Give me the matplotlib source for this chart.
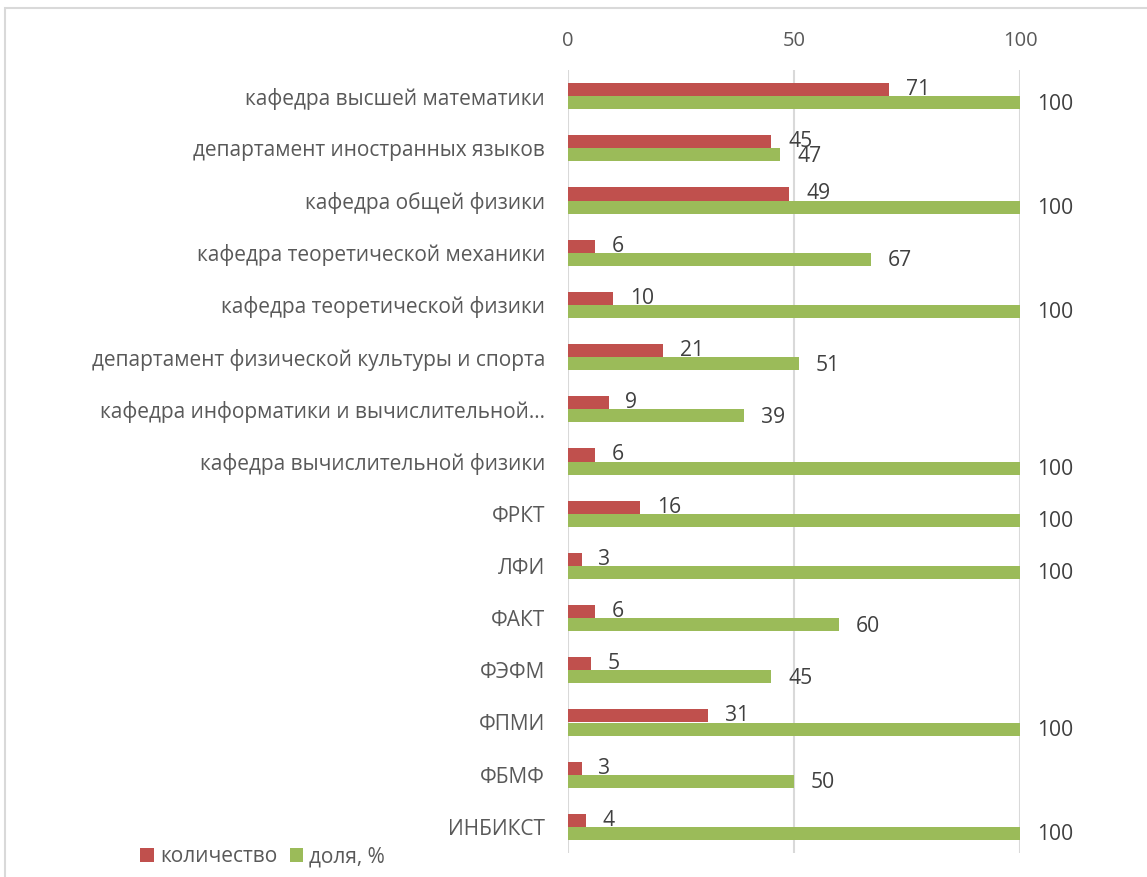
import matplotlib
matplotlib.use("Agg")
import matplotlib.pyplot as plt
from matplotlib.patches import Rectangle

plt.rcParams['font.family'] = ['Open Sans', 'DejaVu Sans']

categories = [
    "кафедра высшей математики",
    "департамент иностранных языков",
    "кафедра общей физики",
    "кафедра теоретической механики",
    "кафедра теоретической физики",
    "департамент физической культуры и спорта",
    "кафедра информатики и вычислительной…",
    "кафедра вычислительной физики",
    "ФРКТ",
    "ЛФИ",
    "ФАКТ",
    "ФЭФМ",
    "ФПМИ",
    "ФБМФ",
    "ИНБИКСТ",
]
count_values = [71, 45, 49, 6, 10, 21, 9, 6, 16, 3, 6, 5, 31, 3, 4]
share_values = [100, 47, 100, 67, 100, 51, 39, 100, 100, 100, 60, 45, 100, 50, 100]
series_names = ["количество", "доля, %"]
x_ticks = [0, 50, 100]

red = "#C0504D"
green = "#9BBB59"
grid_c = "#D9D9D9"
text_c = "#595959"
val_c = "#404040"

W, H = 1147, 877
fig = plt.figure(figsize=(W / 100, H / 100), dpi=100)

# chart frame
fig.patches.append(Rectangle((5 / W, -0.05), 1.2, 1 - 8 / H + 0.05, transform=fig.transFigure,
                             fill=False, edgecolor=grid_c, linewidth=1.5))

ax = fig.add_axes([568 / W, 1 - 853 / H, (1020 - 568) / W, (853 - 70) / H])

n = len(categories)
ys = list(range(n))
bh = 0.25
ax.barh([y - bh / 2 for y in ys], count_values, height=bh, color=red, label=series_names[0], zorder=3)
ax.barh([y + bh / 2 for y in ys], share_values, height=bh, color=green, label=series_names[1], zorder=3)

for y, v in zip(ys, count_values):
    ax.annotate(str(v), (v, y - bh / 2), xytext=(12.0, 0), textcoords="offset points",
                va="center", ha="left", fontsize=15.2, color=val_c, zorder=4)
for y, v in zip(ys, share_values):
    ax.annotate(str(v), (v, y + bh / 2), xytext=(12.0, -1.0), textcoords="offset points",
                va="center", ha="left", fontsize=15.2, color=val_c, annotation_clip=False, zorder=4)

ax.set_xlim(0, 100)
ax.set_ylim(n - 0.5, -0.5)
ax.set_xticks(x_ticks)
ax.xaxis.tick_top()
ax.tick_params(axis="x", length=0, labelsize=14.5, labelcolor=text_c, pad=13.5)
ax.set_yticks(ys)
ax.set_yticklabels(categories)
ax.tick_params(axis="y", length=0, labelsize=15, labelcolor=text_c, pad=16.5)
for s in ax.spines.values():
    s.set_visible(False)
ax.grid(axis="x", color=grid_c, linewidth=1.5, zorder=0)
ax.set_axisbelow(True)

leg = fig.legend(loc="center left", bbox_to_anchor=(140 / W, 1 - 857 / H), ncol=2, frameon=False,
                 fontsize=15, handlelength=0.65, handleheight=0.65, handletextpad=0.3,
                 columnspacing=0.6, borderaxespad=0, borderpad=0)
for t in leg.get_texts():
    t.set_color(text_c)

fig.savefig("out.png", dpi=100)
